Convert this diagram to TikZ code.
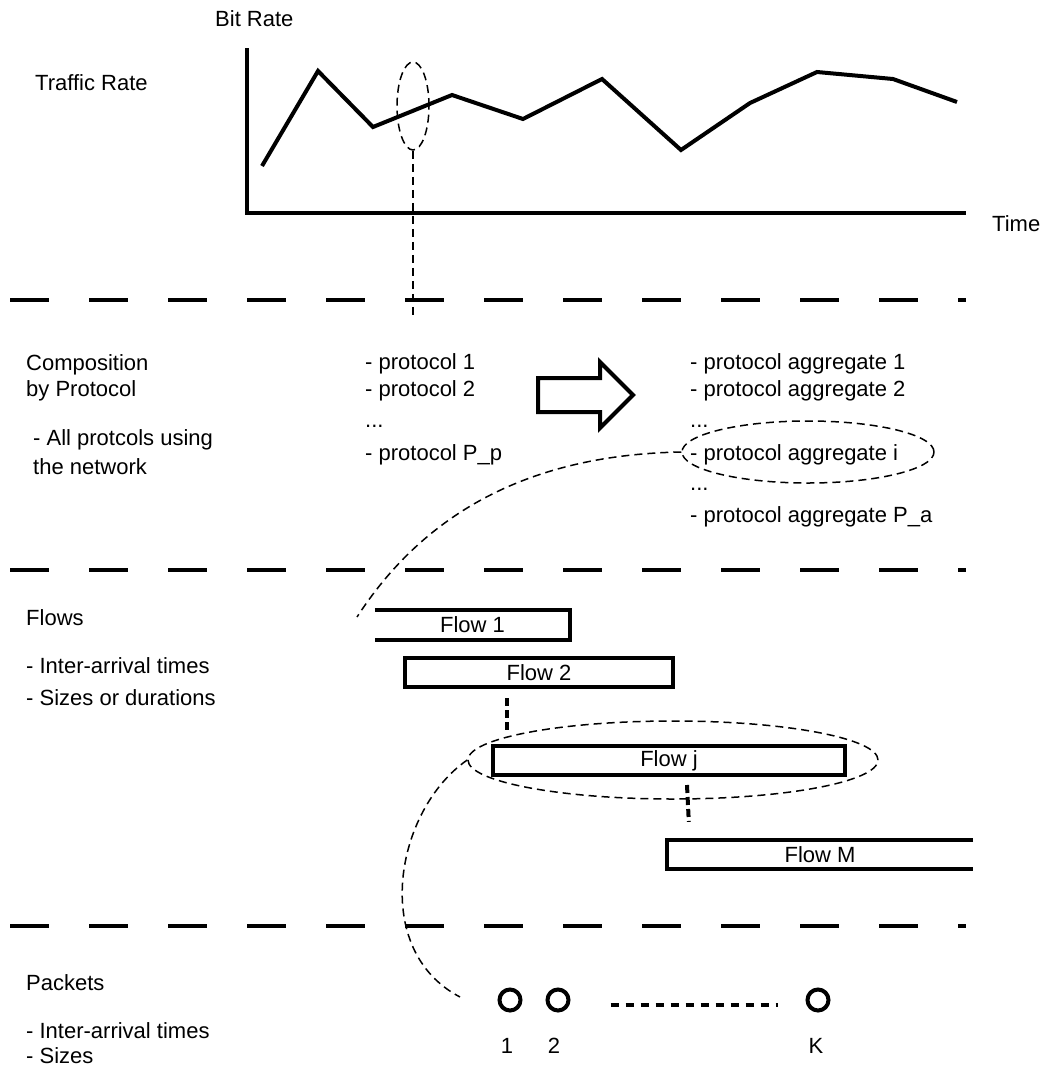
\documentclass[tikz,border=0pt]{standalone}
\usepackage{fontspec}
\setmainfont{Liberation Sans}
\usetikzlibrary{shapes.geometric}

\begin{document}
\begin{tikzpicture}[x=1pt,y=-1pt,
    lbl/.style={anchor=base west,inner sep=0pt,font=\fontsize{22}{26}\selectfont},
    sep/.style={line width=4pt,dash pattern=on 39pt off 40pt},
    cue/.style={line width=1.5pt,dash pattern=on 8pt off 5pt},
    link/.style={line width=4pt,dash pattern=on 8pt off 4pt},
    dots/.style={line width=4pt,dash pattern=on 8pt off 7pt},
    flowbox/.style={minimum height=29pt,inner sep=0pt,font=\fontsize{22}{26}\selectfont},
    ring/.style={ellipse,draw,cue,inner sep=0pt},
    pkt/.style={circle,draw,line width=4pt,minimum size=21pt,inner sep=0pt}]
    \useasboundingbox (0,0) rectangle (1044,1071);

    % axes
    \draw[line width=4pt] (247,48) -- (247,213) -- (966,213);
    \node[lbl] (bitrate) at (215,26) {Bit Rate};
    \node[lbl] (traffic) at (35,90) {Traffic Rate};
    \node[lbl] (time) at (992,231) {Time};

    % traffic rate trace
    \draw[line width=4pt,line join=miter] (262,166) -- (318,71) -- (373,127) -- (452,95) -- (523,119)
        -- (602,79) -- (681,150) -- (750,103) -- (817,72) -- (893,79) -- (957,102);

    \node[ring,minimum width=32pt,minimum height=88pt] (probe) at (413,106) {};
    \coordinate (probeend) at (413,318);
    \draw[cue] (probe.south) -- (probeend);

    % layer separators
    \foreach \y in {300,570,926}
        \draw[sep] (10,\y) -- (966,\y);

    % composition by protocol
    \node[lbl] (comp) at (26,370) {Composition};
    \node[lbl] (byproto) at (26,396) {by Protocol};
    \node[lbl] (allproto) at (33,445) {- All protcols using};
    \node[lbl] (network) at (33,474) {the network};

    \node[lbl] (p1) at (365,369) {- protocol 1};
    \node[lbl] (p2) at (365,396) {- protocol 2};
    \node[lbl] (pdots) at (365,427) {...};
    \node[lbl] (pp) at (365,460) {- protocol P\_p};

    \draw[line width=4pt] (538,378) -- (600,378) -- (600,362) -- (633,395)
        -- (600,428) -- (600,412) -- (538,412) -- cycle;

    \node[lbl] (a1) at (690,369) {- protocol aggregate 1};
    \node[lbl] (a2) at (690,396) {- protocol aggregate 2};
    \node[lbl] (adots1) at (690,427) {...};
    \node[lbl] (ai) at (690,460) {- protocol aggregate i};
    \node[lbl] (adots2) at (690,490) {...};
    \node[lbl] (apa) at (690,522) {- protocol aggregate P\_a};

    \node[ring,minimum width=252pt,minimum height=62pt] (agg) at (808,452) {};

    % flows
    \node[lbl] (flows) at (26,625) {Flows};
    \node[lbl] (finter) at (26,673) {- Inter-arrival times};
    \node[lbl] (fsizes) at (26,705) {- Sizes or durations};

    \node[flowbox,minimum width=195pt] (flow1) at (472.5,625) {Flow 1};
    \draw[line width=4pt] (flow1.north west) -- (flow1.north east) -- (flow1.south east) -- (flow1.south west);
    \node[flowbox,draw,line width=4pt,minimum width=268pt] (flow2) at (539,672.5) {Flow 2};
    \node[flowbox,draw,line width=4pt,minimum width=352pt] (flowj) at (669,760.5) {Flow j};
    \node[flowbox,minimum width=306pt] (flowm) at (820,854.5) {Flow M};
    \draw[line width=4pt] (flowm.north east) -- (flowm.north west) -- (flowm.south west) -- (flowm.south east);

    \draw[link] ([xshift=104pt,yshift=-9pt]flow2.south west) -- ([xshift=16pt,yshift=11pt]flowj.north west);
    \draw[link] ([xshift=196pt,yshift=-8pt]flowj.south west) -- ([xshift=22pt,yshift=18pt]flowm.north west);

    \node[ring,minimum width=410pt,minimum height=78pt] (fjring) at (673,760) {};

    \coordinate (f1hook) at (357,617);
    \draw[cue] (agg.west) .. controls (520,455) and (420,520) .. (f1hook);

    % packets
    \node[lbl] (packets) at (26,990) {Packets};
    \node[lbl] (pinter) at (26,1038) {- Inter-arrival times};
    \node[lbl] (psizes) at (26,1063) {- Sizes};

    \node[pkt] (pk1) at (510,1000) {};
    \node[pkt] (pk2) at (558,1000) {};
    \node[pkt] (pkk) at (818,1000) {};
    \node[lbl,anchor=base] (n1) at (507,1053) {1};
    \node[lbl,anchor=base] (n2) at (554,1053) {2};
    \node[lbl,anchor=base] (nk) at (816,1053) {K};

    \draw[dots] ([xshift=40pt,yshift=-5pt]pk2.east) -- ([xshift=-28pt,yshift=-5pt]pkk.west);

    \coordinate (pkhook) at (460,997);
    \draw[cue] (fjring.west) .. controls (395,810) and (370,950) .. (pkhook);
\end{tikzpicture}
\end{document}
